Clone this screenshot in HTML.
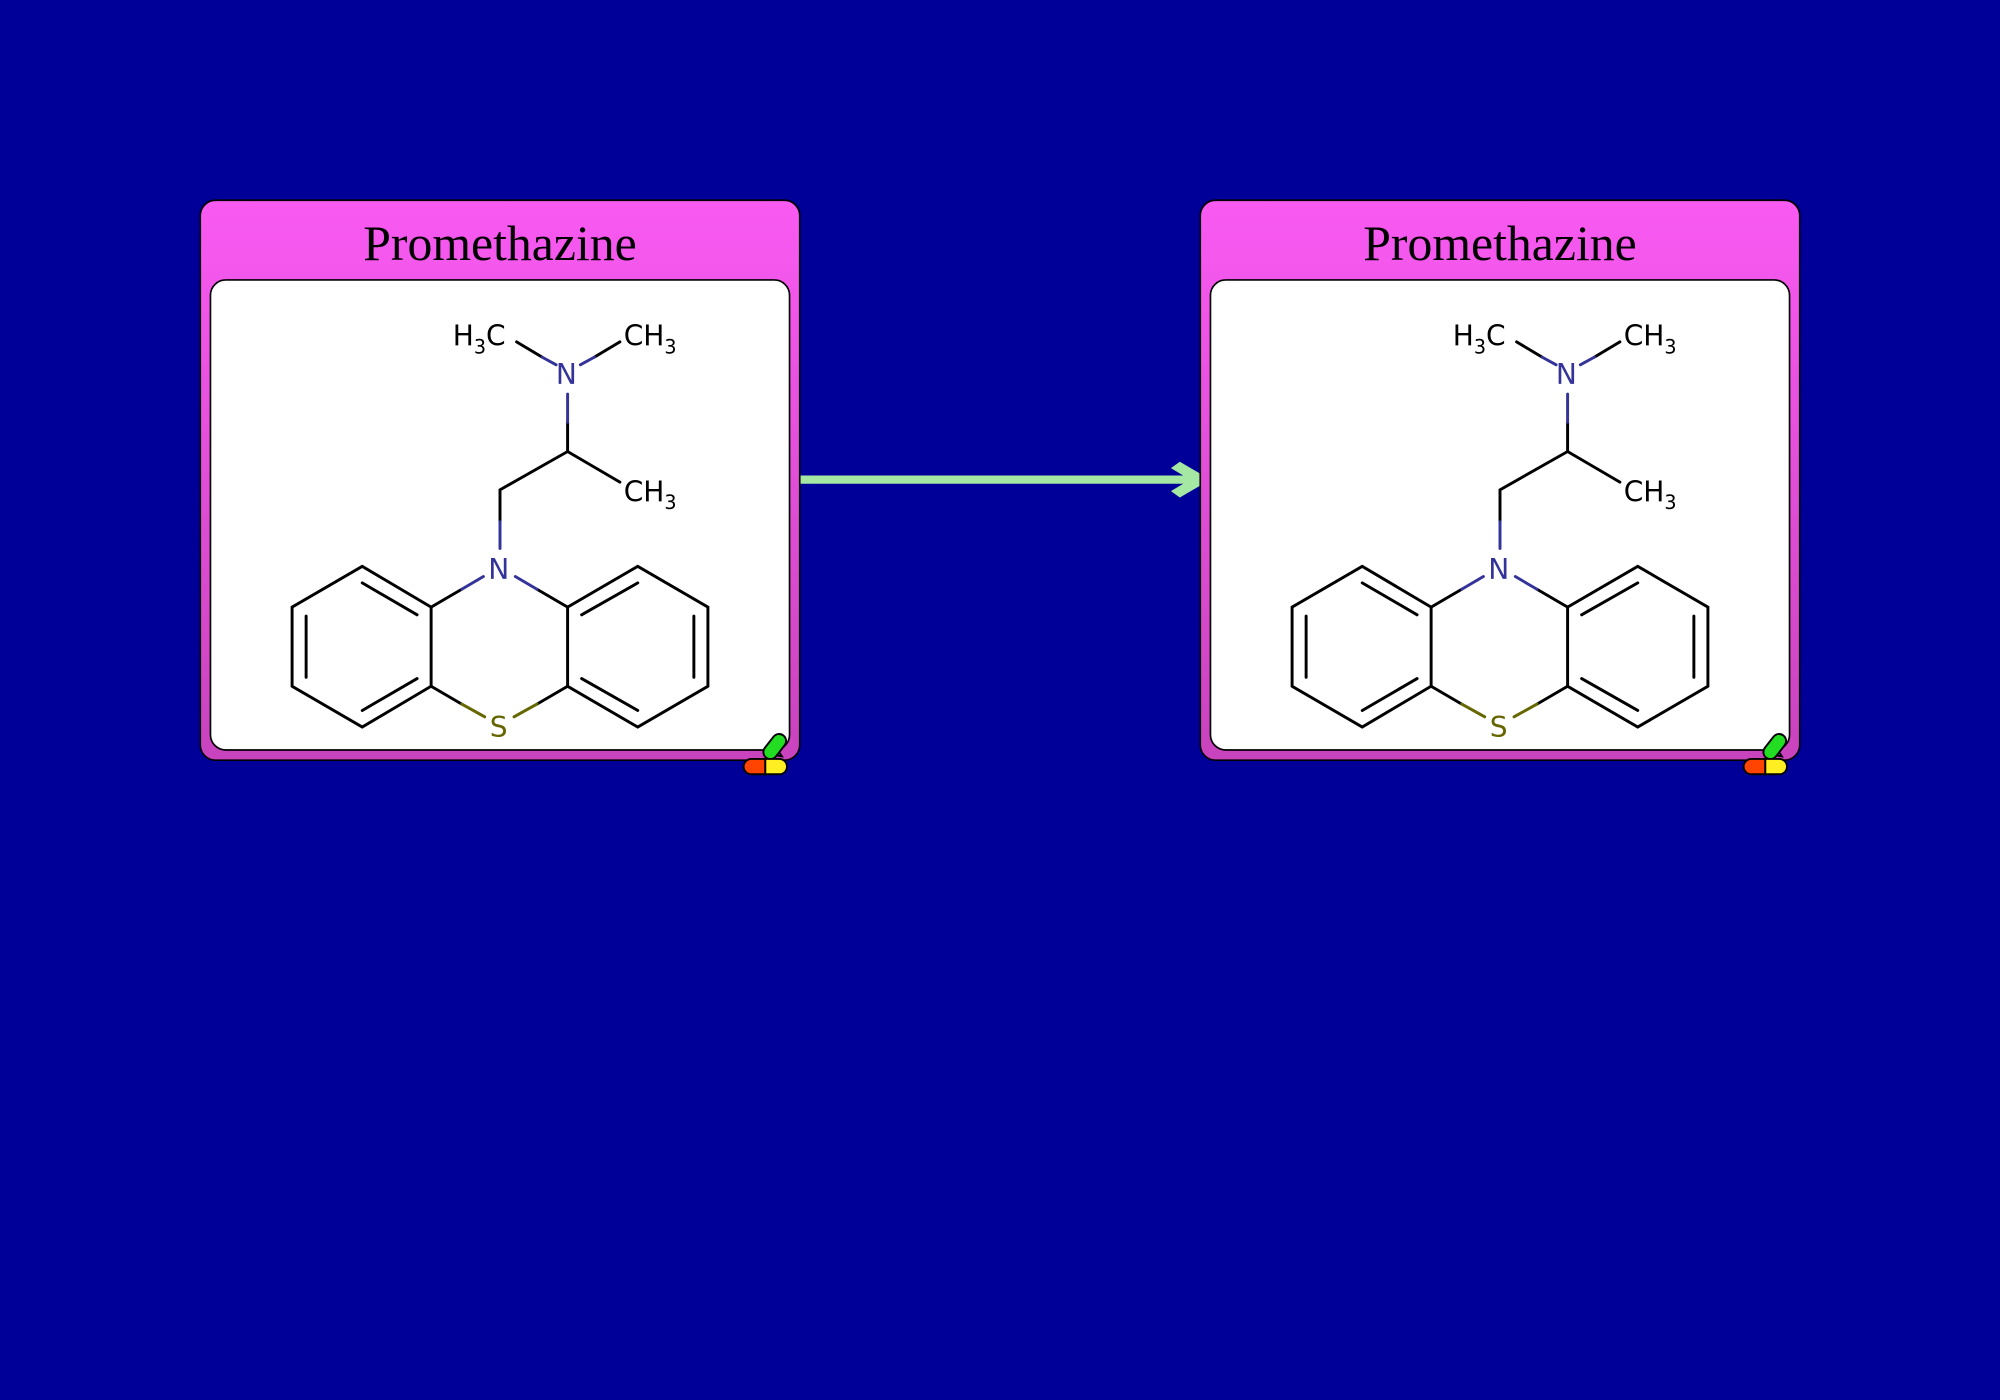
<!DOCTYPE html>
<html><head><meta charset="utf-8"><style>html,body{margin:0;padding:0;background:#000099;}svg{display:block}</style></head>
<body>
<svg width="2000" height="1400" viewBox="0 0 1568 1097.6" xmlns="http://www.w3.org/2000/svg">
<defs>
<linearGradient id="pg" x1="0" y1="0" x2="0" y2="1"><stop offset="0" stop-color="#f95af2"/><stop offset="1" stop-color="#c843bd"/></linearGradient>
</defs>
<rect width="1568" height="1098" fill="#000099"/>
<line x1="627" y1="376" x2="938" y2="376" stroke="#a4e8a4" stroke-width="6.5"/>
<polygon points="949,376 925,362 918,367 933,376 918,385 925,390" fill="#a4e8a4"/>
<g>
<rect x="157" y="157" width="470" height="439" rx="12" fill="url(#pg)" stroke="#000" stroke-width="1.3"/>
<text x="392" y="204" font-family="Liberation Serif, serif" font-size="39" text-anchor="middle" fill="#000">Promethazine</text>
<rect x="165" y="219.5" width="454" height="368.5" rx="12" fill="#fff" stroke="#000" stroke-width="1.3"/>
<g stroke-width="2.3" stroke-linecap="round" fill="none">
<g stroke="#000">
<polyline points="338,476 284,444 229,476 229,538 284,570 338,538 338,476"/>
<polyline points="445,476 500,444 555,476 555,538 500,570 445,538 445,476"/>
<line x1="284" y1="457" x2="327" y2="482"/><line x1="240" y1="483" x2="240" y2="531"/><line x1="284" y1="557" x2="327" y2="532"/>
<line x1="456" y1="482" x2="500" y2="457"/><line x1="544" y1="483" x2="544" y2="531"/><line x1="456" y1="532" x2="500" y2="557"/>
<line x1="338" y1="476" x2="362" y2="462"/><line x1="445" y1="476" x2="421" y2="462"/>
<line x1="338" y1="538" x2="362" y2="552"/><line x1="445" y1="538" x2="421" y2="552"/>
<polyline points="392,409 392,384 445,354 486,378"/>
<line x1="445" y1="354" x2="445" y2="331"/>
<line x1="405" y1="268" x2="425" y2="280"/><line x1="486" y1="268" x2="466" y2="280"/>
</g>
<g stroke="#333399">
<line x1="362" y1="462" x2="379" y2="452"/><line x1="421" y1="462" x2="404" y2="452"/>
<line x1="392" y1="409" x2="392" y2="430"/><line x1="445" y1="331" x2="445" y2="309"/>
<line x1="425" y1="280" x2="436" y2="286"/><line x1="466" y1="280" x2="455" y2="286"/>
</g>
<g stroke="#666600">
<line x1="362" y1="552" x2="380" y2="562"/><line x1="421" y1="552" x2="403" y2="562"/>
</g>
</g>
<g font-family="DejaVu Sans, sans-serif" font-size="22">
<text x="391" y="454" text-anchor="middle" fill="#333399">N</text>
<text x="444" y="301" text-anchor="middle" fill="#333399">N</text>
<text x="391" y="578" text-anchor="middle" fill="#666600">S</text>
<text x="355" y="271" fill="#000">H<tspan font-size="15" dy="6">3</tspan><tspan dy="-6">C</tspan></text>
<text x="489" y="271" fill="#000">CH<tspan font-size="15" dy="6">3</tspan></text>
<text x="489" y="393" fill="#000">CH<tspan font-size="15" dy="6">3</tspan></text>
</g>
<g stroke="#000" stroke-width="1.5">
<polygon points="601,591 607,584 613,593" fill="#3399ee"/>
<rect x="602" y="574" width="11" height="22" rx="5.5" fill="#22dd22" transform="rotate(38 607 585)"/>
<path d="M600,595 H589 a6,6 0 0 0 0,12 H600 Z" fill="#ff4400"/>
<path d="M600,595 H611 a6,6 0 0 1 0,12 H600 Z" fill="#ffee22"/>
</g>
</g>
<g transform="translate(784,0)">
<rect x="157" y="157" width="470" height="439" rx="12" fill="url(#pg)" stroke="#000" stroke-width="1.3"/>
<text x="392" y="204" font-family="Liberation Serif, serif" font-size="39" text-anchor="middle" fill="#000">Promethazine</text>
<rect x="165" y="219.5" width="454" height="368.5" rx="12" fill="#fff" stroke="#000" stroke-width="1.3"/>
<g stroke-width="2.3" stroke-linecap="round" fill="none">
<g stroke="#000">
<polyline points="338,476 284,444 229,476 229,538 284,570 338,538 338,476"/>
<polyline points="445,476 500,444 555,476 555,538 500,570 445,538 445,476"/>
<line x1="284" y1="457" x2="327" y2="482"/><line x1="240" y1="483" x2="240" y2="531"/><line x1="284" y1="557" x2="327" y2="532"/>
<line x1="456" y1="482" x2="500" y2="457"/><line x1="544" y1="483" x2="544" y2="531"/><line x1="456" y1="532" x2="500" y2="557"/>
<line x1="338" y1="476" x2="362" y2="462"/><line x1="445" y1="476" x2="421" y2="462"/>
<line x1="338" y1="538" x2="362" y2="552"/><line x1="445" y1="538" x2="421" y2="552"/>
<polyline points="392,409 392,384 445,354 486,378"/>
<line x1="445" y1="354" x2="445" y2="331"/>
<line x1="405" y1="268" x2="425" y2="280"/><line x1="486" y1="268" x2="466" y2="280"/>
</g>
<g stroke="#333399">
<line x1="362" y1="462" x2="379" y2="452"/><line x1="421" y1="462" x2="404" y2="452"/>
<line x1="392" y1="409" x2="392" y2="430"/><line x1="445" y1="331" x2="445" y2="309"/>
<line x1="425" y1="280" x2="436" y2="286"/><line x1="466" y1="280" x2="455" y2="286"/>
</g>
<g stroke="#666600">
<line x1="362" y1="552" x2="380" y2="562"/><line x1="421" y1="552" x2="403" y2="562"/>
</g>
</g>
<g font-family="DejaVu Sans, sans-serif" font-size="22">
<text x="391" y="454" text-anchor="middle" fill="#333399">N</text>
<text x="444" y="301" text-anchor="middle" fill="#333399">N</text>
<text x="391" y="578" text-anchor="middle" fill="#666600">S</text>
<text x="355" y="271" fill="#000">H<tspan font-size="15" dy="6">3</tspan><tspan dy="-6">C</tspan></text>
<text x="489" y="271" fill="#000">CH<tspan font-size="15" dy="6">3</tspan></text>
<text x="489" y="393" fill="#000">CH<tspan font-size="15" dy="6">3</tspan></text>
</g>
<g stroke="#000" stroke-width="1.5">
<polygon points="601,591 607,584 613,593" fill="#3399ee"/>
<rect x="602" y="574" width="11" height="22" rx="5.5" fill="#22dd22" transform="rotate(38 607 585)"/>
<path d="M600,595 H589 a6,6 0 0 0 0,12 H600 Z" fill="#ff4400"/>
<path d="M600,595 H611 a6,6 0 0 1 0,12 H600 Z" fill="#ffee22"/>
</g>
</g>
</svg>
</body></html>
